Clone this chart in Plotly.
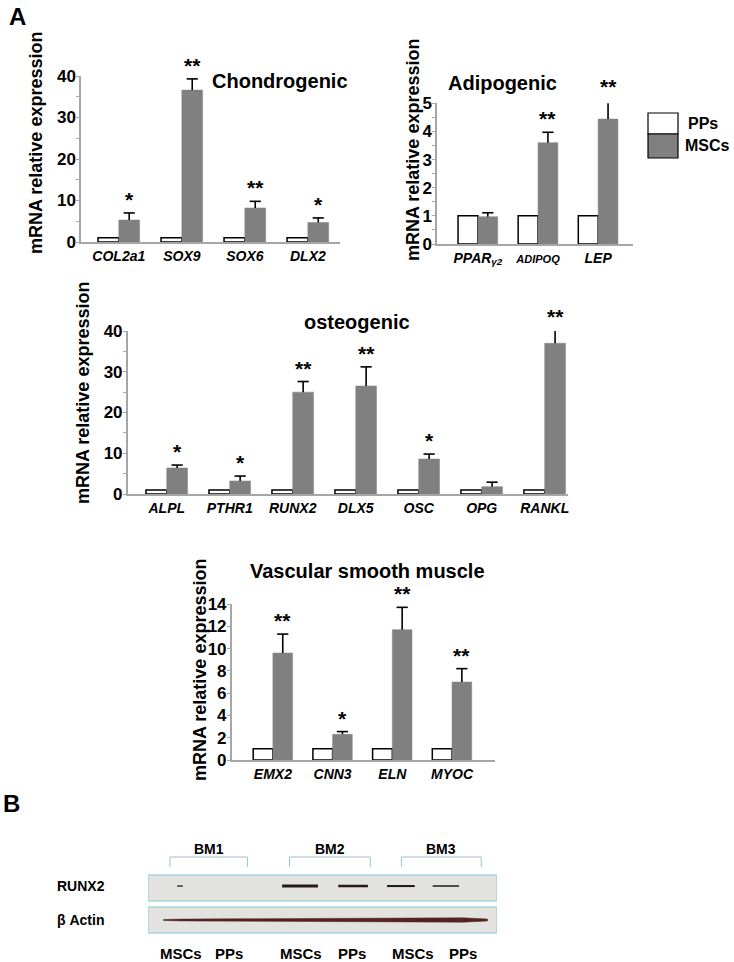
import plotly.graph_objects as go

W, H = 734, 962

# ---------------- data ----------------
series_names = ["PPs", "MSCs"]

chondro_genes = ["COL2a1", "SOX9", "SOX6", "DLX2"]
chondro_pps = [1, 1, 1, 1]
chondro_mscs = [5.3, 36.6, 8.2, 4.7]
chondro_err = [1.7, 2.7, 1.6, 1.1]
chondro_sig = ["*", "**", "**", "*"]

adipo_genes = ["PPAR<sub>γ2</sub>", "<span style='font-size:11px'>ADIPOQ</span>", "LEP"]
adipo_pps = [1, 1, 1]
adipo_mscs = [0.97, 3.6, 4.44]
adipo_err = [0.14, 0.37, 0.68]
adipo_sig = ["", "**", "**"]

osteo_genes = ["ALPL", "PTHR1", "RUNX2", "DLX5", "OSC", "OPG", "RANKL"]
osteo_pps = [1, 1, 1, 1, 1, 1, 1]
osteo_mscs = [6.4, 3.2, 25.0, 26.5, 8.6, 1.8, 37.0]
osteo_err = [0.7, 1.2, 2.6, 4.7, 1.2, 1.1, 3.2]
osteo_sig = ["*", "*", "**", "**", "*", "", "**"]

vsm_genes = ["EMX2", "CNN3", "ELN", "MYOC"]
vsm_pps = [1, 1, 1, 1]
vsm_mscs = [9.6, 2.3, 11.7, 7.0]
vsm_err = [1.7, 0.25, 2.0, 1.2]
vsm_sig = ["**", "*", "**", "**"]

# western blot (lanes and relative band strengths)
blot_groups = ["BM1", "BM2", "BM3"]
blot_lanes = ["MSCs", "PPs", "MSCs", "PPs", "MSCs", "PPs"]
lane_pos = [0.7, 1.7, 3.2, 4.27, 5.54, 6.59]
runx2_band_pos = [0.67, 1.7, 3.18, 4.29, 5.29, 6.23]
runx2_band_len = [0.12, 0.0, 0.75, 0.62, 0.58, 0.55]
runx2_band_px = [1.3, 0.0, 3.2, 2.5, 2.1, 1.5]
actin_px = [1.8, 2.4, 3.0, 3.2, 4.0, 4.3]
blot_rows = ["RUNX2", "β Actin"]

# ---------------- helpers ----------------
def px(x):
    return x / W

def py(y):
    return 1 - y / H

FONT = "Liberation Sans, Arial, sans-serif"
GRAY_BAR = "#808080"
AXIS_GRAY = "#a6a6a6"

fig = go.Figure()
annotations = []
shapes = []

def paper_text(x, y, text, size, angle=0, xanchor="center"):
    annotations.append(dict(x=px(x), y=py(y), xref="paper", yref="paper", text=text, showarrow=False,
                            xanchor=xanchor, yanchor="middle", textangle=angle,
                            font=dict(family=FONT, size=size, color="black")))

panels = [
    dict(genes=chondro_genes, pps=chondro_pps, mscs=chondro_mscs, err=chondro_err, sig=chondro_sig,
         dom_x=(81, 340), dom_y=(242, 76), yr=(0, 40), dtick=10, minor=5, xr=(-0.6, 3.51),
         title="Chondrogenic", title_xy=(280, 81), ytitle_xy=(36, 143)),
    dict(genes=adipo_genes, pps=adipo_pps, mscs=adipo_mscs, err=adipo_err, sig=adipo_sig,
         dom_x=(437, 633), dom_y=(244, 103.3), yr=(0, 5), dtick=1, minor=0.5, xr=(-0.68, 2.58),
         title="Adipogenic", title_xy=(503, 83), ytitle_xy=(413, 150)),
    dict(genes=osteo_genes, pps=osteo_pps, mscs=osteo_mscs, err=osteo_err, sig=osteo_sig,
         dom_x=(127.7, 568), dom_y=(494, 331), yr=(0, 40), dtick=10, minor=5, xr=(-0.62, 6.37),
         title="osteogenic", title_xy=(357, 322), ytitle_xy=(83, 393)),
    dict(genes=vsm_genes, pps=vsm_pps, mscs=vsm_mscs, err=vsm_err, sig=vsm_sig,
         dom_x=(231.7, 495), dom_y=(760, 604), yr=(0, 14), dtick=2, minor=None, xr=(-0.69, 3.72),
         title="Vascular smooth muscle", title_xy=(367, 571), ytitle_xy=(200, 670)),
]

BW = 0.33
OFF = BW / 2

for k, p in enumerate(panels, start=1):
    xa = "x" if k == 1 else f"x{k}"
    ya = "y" if k == 1 else f"y{k}"
    n = len(p["genes"])
    idx = list(range(n))
    xw = [i - OFF for i in idx]
    xg = [i + OFF for i in idx]
    fig.add_trace(go.Bar(x=xw, y=p["pps"], width=BW, xaxis=xa, yaxis=ya, name=series_names[0],
                         marker=dict(color="white", line=dict(color="black", width=1.5)),
                         showlegend=False))
    fig.add_trace(go.Bar(x=xg, y=p["mscs"], width=BW, xaxis=xa, yaxis=ya, name=series_names[1],
                         marker=dict(color=GRAY_BAR, line=dict(color=GRAY_BAR, width=0.5)),
                         showlegend=False))
    tops = [v + e for v, e in zip(p["mscs"], p["err"])]
    fig.add_trace(go.Scatter(x=xg, y=tops, xaxis=xa, yaxis=ya, mode="markers", showlegend=False,
                             marker=dict(symbol="line-ew-open", size=8, color="black",
                                         line=dict(color="black", width=1.6)),
                             error_y=dict(type="data", symmetric=False, array=[0] * n, arrayminus=p["err"],
                                          width=0, thickness=1.6, color="black"),
                             cliponaxis=False))
    # significance stars: anchored on the bar (inside range), text placed at the error-bar top
    for i in idx:
        if p["sig"][i]:
            annotations.append(dict(x=xg[i], y=p["mscs"][i], xref=xa, yref=ya,
                                    ax=xg[i], ay=tops[i], axref=xa, ayref=ya,
                                    showarrow=True, arrowcolor="rgba(0,0,0,0)", arrowwidth=0.1,
                                    text=f"<b>{p['sig'][i]}</b>", xanchor="center", yanchor="bottom",
                                    font=dict(family=FONT, size=21, color="black")))
    ax_key = "xaxis" if k == 1 else f"xaxis{k}"
    ay_key = "yaxis" if k == 1 else f"yaxis{k}"
    x0, x1 = p["dom_x"]
    yb, yt = p["dom_y"]
    fig.layout[ax_key] = dict(domain=[px(x0), px(x1)], range=list(p["xr"]), anchor=ya, automargin=False,
                              showline=True, linecolor=AXIS_GRAY, linewidth=1.5, showgrid=False,
                              zeroline=False, ticks="", tickvals=idx,
                              ticktext=[f"<i>{g}</i>" for g in p["genes"]],
                              tickfont=dict(family=FONT, size=14, color="black", weight="bold"))
    yax = dict(domain=[py(yb), py(yt)], range=list(p["yr"]), anchor=xa, automargin=False,
               showline=True, linecolor=AXIS_GRAY, linewidth=1.5, showgrid=False, zeroline=False,
               ticks="outside", ticklen=3, tickcolor=AXIS_GRAY, tickwidth=1, dtick=p["dtick"],
               ticklabelstandoff=-3,
               tickfont=dict(family=FONT, size=17, color="black", weight="bold"))
    if p["minor"]:
        yax["minor"] = dict(dtick=p["minor"], ticks="outside", ticklen=3, tickcolor=AXIS_GRAY)
    fig.layout[ay_key] = yax
    paper_text(p["title_xy"][0], p["title_xy"][1], f"<b>{p['title']}</b>", 20)
    paper_text(p["ytitle_xy"][0], p["ytitle_xy"][1], "<b>mRNA relative expression</b>", 18, angle=-90)

# legend (drawn as stacked boxes like the original)
leg_colors = ["white", GRAY_BAR]
leg_boxes = [(113, 134), (134, 158)]
leg_text_x = [686, 683]
for name, col, (t, b), tx in zip(series_names, leg_colors, leg_boxes, leg_text_x):
    shapes.append(dict(type="rect", xref="paper", yref="paper", x0=px(648), x1=px(678), y0=py(b), y1=py(t),
                       fillcolor=col, line=dict(color="black", width=1.2)))
    paper_text(tx, (t + b) / 2, f"<b>{name}</b>", 16, xanchor="left")

# panel letters
paper_text(17, 17, "<b>A</b>", 24)
paper_text(11, 803, "<b>B</b>", 24)

# ---------------- western blot ----------------
BX = "x5"
BY = "y5"
BLOT_PX = 58.0   # pixel height of the two-strip blot (0..1 in y5)
fig.layout["xaxis5"] = dict(domain=[px(148), px(497)], range=[0, 7.3], anchor=BY, visible=False)
fig.layout["yaxis5"] = dict(domain=[py(962), py(840)], range=[(933 - 962) / BLOT_PX, (933 - 840) / BLOT_PX],
                            anchor=BX, visible=False)
row_y = [0.81, 0.224]
panel_spans = [(0.552, 1.0), (0.0, 0.448)]
for (y0, y1) in panel_spans:
    shapes.append(dict(type="rect", xref=BX, yref=BY, x0=0, x1=7.3, y0=y0, y1=y1, layer="below",
                       fillcolor="#e2e2de", line=dict(color="#a9d3dc", width=1.5)))

for pos, L, w in zip(runx2_band_pos, runx2_band_len, runx2_band_px):
    if L > 0:
        fig.add_trace(go.Scatter(x=[pos - L / 2, pos + L / 2], y=[row_y[0], row_y[0]], xaxis=BX, yaxis=BY,
                                 mode="lines", line=dict(color="#241a1a", width=w), showlegend=False,
                                 hoverinfo="skip"))

# actin: continuous band with lane-dependent thickness
ax_x = [0.32] + lane_pos + [7.1]
ax_t = [1.0] + actin_px + [2.0]
upper = [row_y[1] + t / 2 / BLOT_PX for t in ax_t]
lower = [row_y[1] - t / 2 / BLOT_PX for t in ax_t]
fig.add_trace(go.Scatter(x=ax_x + ax_x[::-1], y=upper + lower[::-1], xaxis=BX, yaxis=BY, mode="lines",
                         fill="toself", fillcolor="#552222", line=dict(color="#552222", width=0.5),
                         showlegend=False, hoverinfo="skip"))

# group labels and brackets
group_lanes = [(0, 1), (2, 3), (4, 5)]
bracket_pad = [0.24, 0.38]
for g, (a, b) in zip(blot_groups, group_lanes):
    xa0 = lane_pos[a] - bracket_pad[0]
    xa1 = lane_pos[b] + bracket_pad[1]
    yb0 = (933 - 867) / BLOT_PX
    yb1 = (933 - 857) / BLOT_PX
    shapes.append(dict(type="path", xref=BX, yref=BY,
                       path=f"M {xa0},{yb0} L {xa0},{yb1} L {xa1},{yb1} L {xa1},{yb0}",
                       line=dict(color="#9fc3d0", width=1)))
    annotations.append(dict(x=(xa0 + xa1) / 2, y=(933 - 849) / BLOT_PX, xref=BX, yref=BY,
                            text=f"<b>{g}</b>", showarrow=False, xanchor="center", yanchor="middle",
                            font=dict(family=FONT, size=14, color="black")))

for pos, lab in zip(lane_pos, blot_lanes):
    annotations.append(dict(x=pos, y=(933 - 953) / BLOT_PX, xref=BX, yref=BY, text=f"<b>{lab}</b>",
                            showarrow=False, xanchor="center", yanchor="middle",
                            font=dict(family=FONT, size=15, color="black")))

for lab, ry in zip(blot_rows, row_y):
    annotations.append(dict(x=px(55), y=ry, xref="paper", yref=BY, xanchor="left", yanchor="middle",
                            text=f"<b>{lab}</b>", showarrow=False,
                            font=dict(family=FONT, size=14, color="black")))

fig.update_layout(width=W, height=H, margin=dict(l=0, r=0, t=0, b=0), paper_bgcolor="white",
                  plot_bgcolor="rgba(0,0,0,0)", annotations=annotations, shapes=shapes,
                  barmode="overlay", showlegend=False, font=dict(family=FONT, color="black"))

fig.write_html("out.html", config={"displayModeBar": False},
               post_script="document.body.style.margin='0';document.body.style.overflow='hidden';")
